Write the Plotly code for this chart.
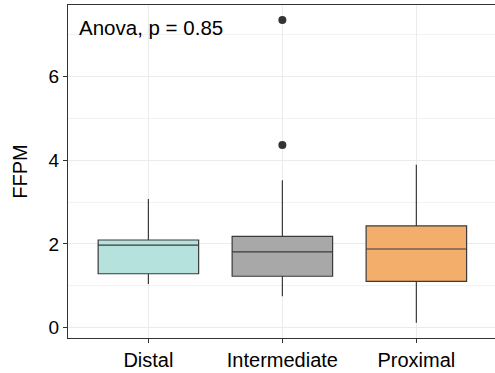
import plotly.graph_objects as go

categories = ["Distal", "Intermediate", "Proximal"]
q1 = [1.29, 1.23, 1.11]
median = [1.97, 1.81, 1.88]
q3 = [2.095, 2.18, 2.43]
lower_whisker = [1.045, 0.75, 0.12]
upper_whisker = [3.07, 3.52, 3.89]
fill_colors = ["#B6E2DE", "#A8A8A8", "#F4AE6B"]
outlier_cats = ["Intermediate", "Intermediate"]
outlier_vals = [7.34, 4.36]
y_ticks = [0, 2, 4, 6]
annotation_text = "Anova, p = 0.85"

FONT = "Liberation Sans, Arial, Helvetica, sans-serif"

fig = go.Figure()
for i, c in enumerate(categories):
    fig.add_trace(go.Box(
        x=[c], q1=[q1[i]], median=[median[i]], q3=[q3[i]],
        lowerfence=[lower_whisker[i]], upperfence=[upper_whisker[i]],
        fillcolor=fill_colors[i], line=dict(color="#3a3a3a", width=1.2),
        width=0.75, boxpoints=False, showlegend=False, hoverinfo="skip",
        whiskerwidth=0,
    ))

fig.add_trace(go.Scatter(
    x=outlier_cats, y=outlier_vals, mode="markers",
    marker=dict(color="#333333", size=8), showlegend=False,
))

fig.add_annotation(
    x=0.02, xref="paper", y=7.16, yref="y", text=annotation_text,
    showarrow=False, xanchor="left", yanchor="middle",
    font=dict(size=20.5, color="black", family=FONT),
)

fig.update_layout(
    width=495, height=373,
    margin=dict(l=68, r=0, t=5, b=35),
    plot_bgcolor="white", paper_bgcolor="white",
    font=dict(family=FONT, size=19, color="black"),
    xaxis=dict(
        type="category", categoryorder="array", categoryarray=categories,
        range=[-0.6, 2.587],
        showgrid=True, gridcolor="#EBEBEB", gridwidth=1,
        showline=True, linecolor="#333333", linewidth=1.2, mirror=True,
        ticks="outside", ticklen=4, tickcolor="#333333", tickwidth=1.2,
        tickfont=dict(size=20, color="black"), zeroline=False,
    ),
    yaxis=dict(
        range=[-0.243, 7.70],
        tickvals=y_ticks, ticktext=[str(v) for v in y_ticks],
        showgrid=True, gridcolor="#EBEBEB", gridwidth=1,
        minor=dict(dtick=1, tick0=1, showgrid=True, gridcolor="#F2F2F2", gridwidth=1),
        showline=True, linecolor="#333333", linewidth=1.2,
        ticks="outside", ticklen=4, tickcolor="#333333", tickwidth=1.2,
        tickfont=dict(size=19, color="black"), zeroline=False,
        title=dict(text="FFPM", font=dict(size=20, color="black"), standoff=15),
    ),
)

fig.write_html("out.html")
